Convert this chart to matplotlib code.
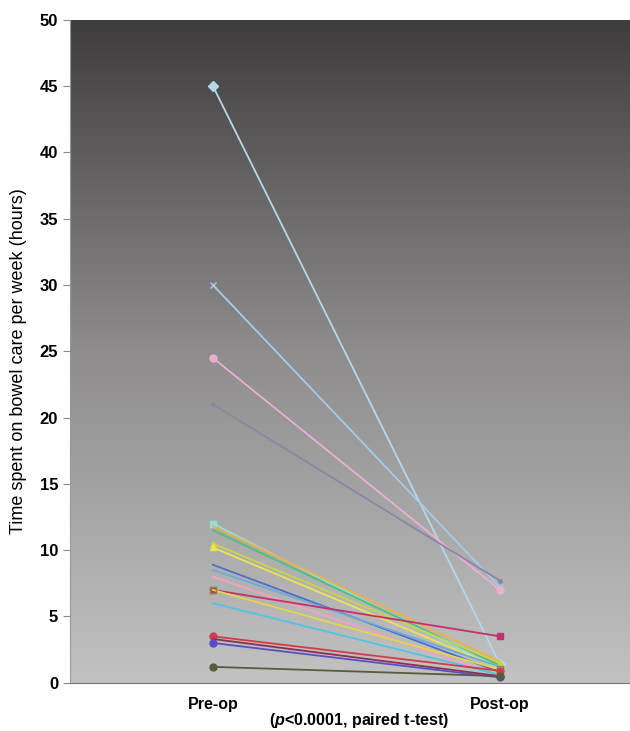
import numpy as np
import matplotlib
matplotlib.use("Agg")
import matplotlib.pyplot as plt
from matplotlib.colors import LinearSegmentedColormap

plt.rcParams['font.family'] = ['Liberation Sans', 'DejaVu Sans']
plt.rcParams['mathtext.fontset'] = 'custom'
plt.rcParams['mathtext.it'] = 'Liberation Sans:italic:bold'
plt.rcParams['mathtext.rm'] = 'Liberation Sans:bold'

# Data (hours per week)
time_points = ["Pre-op", "Post-op"]
pre_op = [45.0, 30.0, 24.5, 21.0, 12.0, 11.8, 11.5, 10.5, 10.2, 8.9, 8.5, 8.0,
          7.0, 7.0, 6.0, 3.5, 3.3, 3.0, 1.2]
post_op = [1.4, 7.2, 7.0, 7.7, 1.0, 1.6, 1.3, 1.5, 1.1, 0.8, 1.2, 0.5,
           3.5, 1.0, 0.6, 0.9, 0.5, 0.4, 0.5]
colors = ['#b4d8ee', '#a6cbe6', '#eab0d4', '#8c86a4', '#8ee0d8', '#e8b24a',
          '#4fbf7c', '#c8d44e', '#ece35a', '#4f6ec4', '#6fa9dc', '#f2a2c4',
          '#c4306c', '#e2d64a', '#52c2e6', '#d23c4a', '#8a3050', '#5a4ec4',
          '#5a5a3c']
markers = ['D', 'x', 'o', '.', 's', '', '', '^', '^', '', '', '',
           's', 's', '', 'o', '', 'o', 'o']

fig = plt.figure(figsize=(6.3, 7.31), dpi=100)
ax = fig.add_axes([0.111, 0.066, 0.889, 0.907])

# grey gradient background, dark at top
cmap = LinearSegmentedColormap.from_list('bg', ['#c2c2c2', '#8e8c8c', '#3e3c3c'])
grad = np.linspace(0, 1, 256).reshape(-1, 1)
ax.imshow(grad, cmap=cmap, aspect='auto', origin='lower',
          extent=[0, 1, 0, 1], transform=ax.transAxes, zorder=0)

x = [0, 1]
for pre, post, c, m in zip(pre_op, post_op, colors, markers):
    mec = '#8a8a3a' if (m == 's' and c == '#e2d64a') else c
    mfc = 'none' if mec != c else c
    ax.plot(x, [pre, post], color=c, lw=1.3, marker=m if m else None,
            markersize=5, markerfacecolor=mfc, markeredgecolor=mec, zorder=2)

ax.set_xlim(-0.498, 1.453)
ax.set_ylim(0, 50)
ax.set_yticks(range(0, 51, 5))
ax.set_xticks(x)
ax.set_xticklabels(time_points, fontsize=11.5, fontweight='bold')
ax.tick_params(axis='x', length=0, pad=10)
ax.tick_params(axis='y', labelsize=12, length=5, color='#888888')
for lbl in ax.get_yticklabels():
    lbl.set_fontweight('bold')

for s in ['top', 'right']:
    ax.spines[s].set_visible(False)
ax.spines['left'].set_color('#999999')
ax.spines['bottom'].set_color('#777777')

ax.set_ylabel('Time spent on bowel care per week (hours)', fontsize=13)
ax.yaxis.set_label_coords(-0.077, 0.485)
fig.text(0.57, 0.001, r'($p$<0.0001, paired t-test)', ha='center', va='bottom',
         fontsize=11.5, fontweight='bold')

fig.savefig('out.png', dpi=100)
